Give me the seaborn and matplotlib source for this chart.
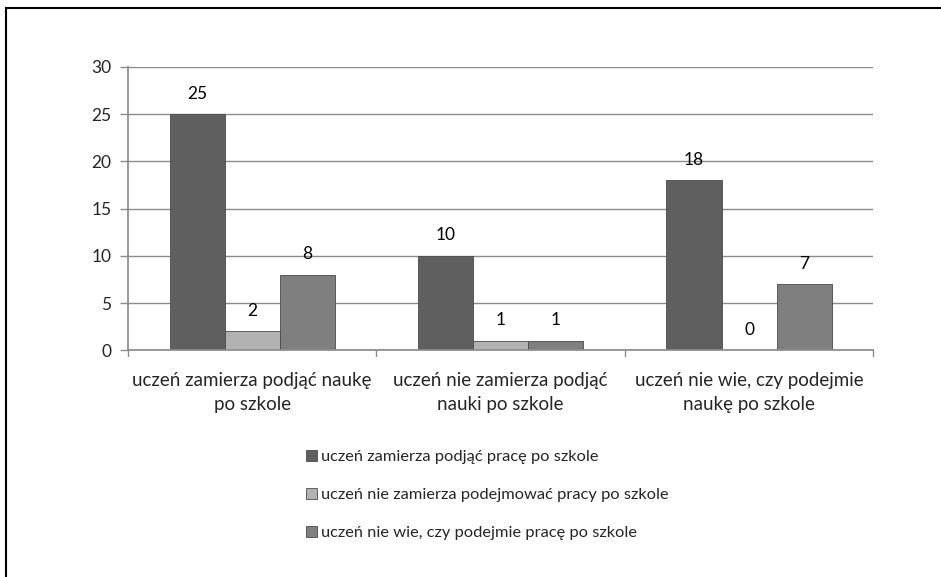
import matplotlib
matplotlib.use("Agg")
import matplotlib.pyplot as plt
from matplotlib.patches import Rectangle
import seaborn as sns
import pandas as pd

categories = [
    "uczeń zamierza podjąć naukę\npo szkole",
    "uczeń nie zamierza podjąć\nnauki po szkole",
    "uczeń nie wie, czy podejmie\nnaukę po szkole",
]
series = [
    "uczeń zamierza podjąć pracę po szkole",
    "uczeń nie zamierza podejmować pracy po szkole",
    "uczeń nie wie, czy podejmie pracę po szkole",
]
values_praca = [25, 10, 18]
values_nie_praca = [2, 1, 0]
values_nie_wie = [8, 1, 7]
colors = ["#5f5f5f", "#b2b2b2", "#7f7f7f"]

rows = []
for s, vals in zip(series, [values_praca, values_nie_praca, values_nie_wie]):
    for c, v in zip(categories, vals):
        rows.append({"kategoria": c, "seria": s, "liczba": v})
df = pd.DataFrame(rows)

sns.set_theme(style="white")
plt.rcParams["font.family"] = ["Lato", "DejaVu Sans"]

fig = plt.figure(figsize=(9.41, 5.77), dpi=100)
ax = fig.add_axes([0.136, 0.393, 0.792, 0.491])

sns.barplot(data=df, x="kategoria", y="liczba", hue="seria", order=categories,
            hue_order=series, palette=colors, width=0.665, ax=ax,
            edgecolor="#4a4a4a", linewidth=0.6, saturation=1, errorbar=None)

for cont in ax.containers:
    ax.bar_label(cont, padding=9, fontsize=12.5, color="black")

ax.set_ylim(0, 30)
ax.set_yticks(range(0, 31, 5))
ax.set_xlim(-0.5, 2.5)
ax.yaxis.grid(True, color="#8c8c8c", linewidth=1)
ax.set_axisbelow(True)
for side in ["top", "right"]:
    ax.spines[side].set_visible(False)
ax.spines["left"].set_color("#8c8c8c")
ax.spines["bottom"].set_color("#8c8c8c")
ax.set_xlabel("")
ax.set_ylabel("")
ax.tick_params(axis="y", labelsize=12.5, length=6, width=1, color="#8c8c8c",
               left=True, pad=6)
ax.set_xticks([0, 1, 2])
ax.set_xticklabels(categories, fontsize=13.5, linespacing=1.45)
ax.tick_params(axis="x", length=0, pad=16)
# group separators on the category axis
for xb in [-0.5, 0.5, 1.5, 2.5]:
    ax.plot([xb, xb], [0, -0.02], transform=ax.get_xaxis_transform(),
            color="#8c8c8c", linewidth=1, clip_on=False)

handles, labels = ax.get_legend_handles_labels()
ax.legend(handles, labels, loc="upper left", bbox_to_anchor=(0.318, 0.232),
          bbox_transform=fig.transFigure, frameon=False, fontsize=11.8,
          handlelength=0.68, handleheight=0.68, handletextpad=0.25,
          labelspacing=1.45, borderaxespad=0)

# outer chart border
fig.patches.append(Rectangle((6 / 941, -0.1), 1.2, 1 - 8 / 577 + 0.1,
                             transform=fig.transFigure, fill=False,
                             edgecolor="black", linewidth=1.5))

fig.savefig("out.png", dpi=100)
